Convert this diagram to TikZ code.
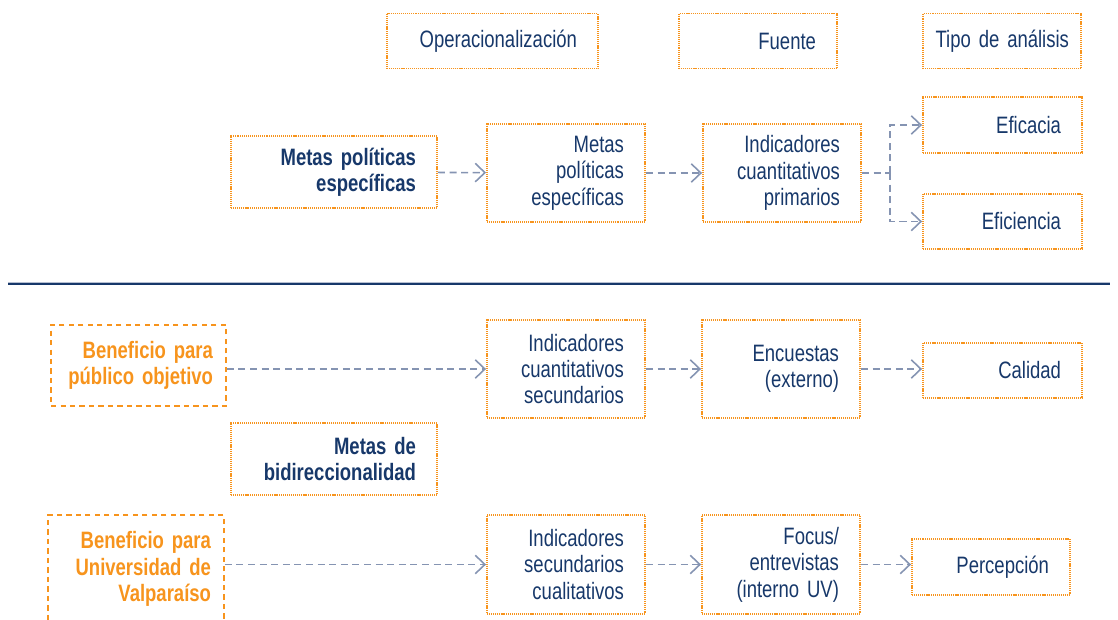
\documentclass[tikz,border=0pt]{standalone}
\usepackage{fontspec}
\setmainfont{Liberation Sans}[FakeStretch=0.78,WordSpace=0.7]
\usepackage{xcolor}
\usepackage{tikz}
\usetikzlibrary{arrows.meta}

\definecolor{navy}{HTML}{17386A}
\definecolor{naranja}{HTML}{F7941D}
\definecolor{gris}{HTML}{8594B2}

\begin{document}
\begin{tikzpicture}[x=0.02cm,y=-0.02cm]
			\tikzstyle{box} = [draw=naranja, line width=1.1pt, dash pattern=on 0.6pt off 0.5pt, text=navy, align=right, inner xsep=0.42cm, font=\fontsize{13.5pt}{15pt}\selectfont]
			\tikzstyle{goal} = [box, font=\fontsize{13.5pt}{15pt}\selectfont\bfseries]
			\tikzstyle{benefit} = [draw=naranja, line width=1pt, dash pattern=on 3pt off 2.4pt, text=naranja, align=right, inner xsep=0.26cm, font=\fontsize{13.5pt}{15pt}\selectfont\bfseries]
			\tikzset{edge/.style = {draw=gris, line width=0.9pt, dash pattern=on 4pt off 2.6pt, -{Straight Barb[length=5.5pt,width=10.5pt,line width=0.9pt]}}}
			\useasboundingbox (0,0) rectangle (1118,619);
			
			% headers
			\node[box, text width=3.38cm, minimum height=1.1cm](oper) at (492.5,41) {Operacionalización};
			\node[box, text width=2.32cm, minimum height=1.1cm](fuente) at (758,41) {Fuente};
			\node[box, inner xsep=0.24cm, text width=2.68cm, minimum height=1.1cm](tipo) at (1002,41) {Tipo de análisis};
			
			% metas politicas
			\node[goal, text width=3.28cm, minimum height=1.44cm](metas) at (334,172) {Metas políticas\\específicas};
			\node[box, text width=2.32cm, minimum height=1.96cm](metasop) at (566,173) {Metas\\políticas\\específicas};
			\node[box, text width=2.32cm, minimum height=1.96cm](primarios) at (782,173) {Indicadores\\cuantitativos\\primarios};
			\node[box, text width=2.34cm, minimum height=1.12cm](eficacia) at (1002.5,125) {Eficacia};
			\node[box, text width=2.34cm, minimum height=1.1cm](eficiencia) at (1002.5,221.5) {Eficiencia};
			\coordinate (split) at (890,173);
			\draw[edge](metas) to (metasop);
			\draw[edge](metasop) to (primarios);
			\draw[edge, -] (primarios) to (split);
			\draw[edge](split) |- (eficacia);
			\draw[edge](split) |- (eficiencia);
			
			% separador
			\draw[gris!60, line width=0.6pt] (8,282.9) -- (1110,282.9);
			\draw[navy, line width=1.1pt] (8,284.4) -- (1110,284.4);
			
			% publico objetivo
			\node[benefit, text width=2.98cm, minimum height=1.62cm](publico) at (138.5,365.5) {Beneficio para\\público objetivo};
			\node[box, text width=2.32cm, minimum height=1.96cm](secundarios) at (566,369) {Indicadores\\cuantitativos\\secundarios};
			\node[box, text width=2.32cm, minimum height=1.96cm](encuestas) at (781,369) {Encuestas\\(externo)};
			\node[box, text width=2.34cm, minimum height=1.1cm](calidad) at (1002.5,370.5) {Calidad};
			\draw[edge](publico.east |- secundarios) to (secundarios);
			\draw[edge](secundarios) to (encuestas);
			\draw[edge](encuestas) to (calidad.west |- encuestas);
			
			\node[goal, text width=3.28cm, minimum height=1.44cm](bidir) at (334,459) {Metas de\\bidireccionalidad};
			
			% universidad
			\node[benefit, text width=3.0cm, minimum height=2.16cm](uv) at (136,569) {Beneficio para\\Universidad de\\Valparaíso};
			\node[box, text width=2.32cm, minimum height=1.98cm](cualitativos) at (566,564.5) {Indicadores\\secundarios\\cualitativos};
			\node[box, text width=2.32cm, minimum height=1.98cm](focus) at (781,564.5) {Focus/\\entrevistas\\(interno UV)};
			\node[box, text width=2.32cm, minimum height=1.12cm](percepcion) at (991,567) {Percepción};
			\draw[edge](uv.east |- cualitativos) to (cualitativos);
			\draw[edge](cualitativos) to (focus);
			\draw[edge](focus) to (percepcion.west |- focus);
			
\end{tikzpicture}
\end{document}
